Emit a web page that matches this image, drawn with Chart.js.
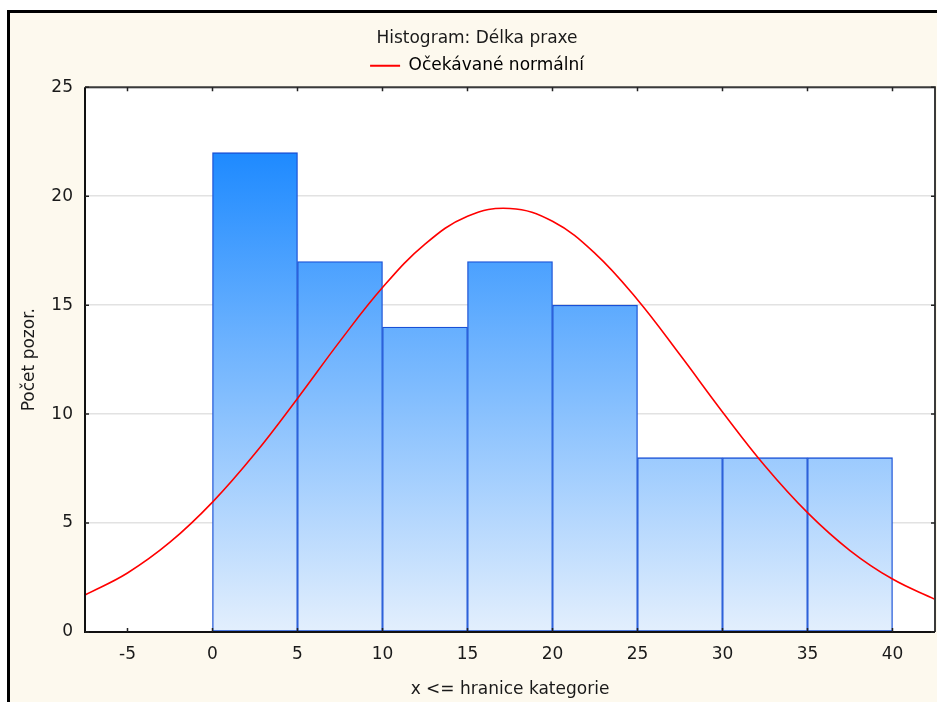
<!DOCTYPE html>
<html>
<head>
<meta charset="utf-8">
<title>Histogram: Délka praxe</title>
<script src="https://cdn.jsdelivr.net/npm/chart.js@4/dist/chart.umd.min.js"></script>
<style>
  html, body { margin: 0; padding: 0; background: #fff; }
  #wrap { width: 937px; height: 702px; }
</style>
</head>
<body>
<div id="wrap"><canvas id="hist"></canvas></div>
<script>
// histogram bins (left edge) and counts
var binLeft = [0, 5, 10, 15, 20, 25, 30, 35];
var binWidth = 5;
var counts = [22, 17, 14, 17, 15, 8, 8, 8];

// expected normal curve
var normX = [-7.5, -5, -2.5, 0, 2.5, 5, 7.5, 10, 12.5, 15, 17.5, 20, 22.5, 25, 27.5, 30, 32.5, 35, 37.5, 40, 42.5];
var normY = [1.70, 2.71, 4.12, 5.96, 8.19, 10.72, 13.35, 15.81, 17.80, 19.08, 19.44, 18.85, 17.38, 15.25, 12.72, 10.10, 7.62, 5.48, 3.74, 2.43, 1.50];

var xTicks = [-5, 0, 5, 10, 15, 20, 25, 30, 35, 40];
var yTicks = [0, 5, 10, 15, 20, 25];

var FONT = '"DejaVu Sans", Verdana, sans-serif';
var FS = 17;
var TXT = '#1a1a1a';

var barData = binLeft.map(function (l, i) { return { x: l + binWidth / 2, y: counts[i] }; });
var lineData = normX.map(function (x, i) { return { x: x, y: normY[i] }; });

// frame, cream background, inward ticks
var framePlugin = {
    id: 'frame',
    beforeDraw: function (chart) {
        var c = chart.ctx, a = chart.chartArea;
        c.save();
        c.fillStyle = '#ffffff';
        c.fillRect(0, 0, chart.width, chart.height);
        c.fillStyle = '#fdf9ee';
        c.fillRect(8, 11, chart.width - 8, chart.height - 11);
        c.fillStyle = '#000';
        c.fillRect(7, 10, chart.width - 7, 3);
        c.fillRect(7, 10, 3, chart.height - 10);
        c.fillStyle = '#ffffff';
        c.fillRect(a.left, a.top, a.right - a.left, a.bottom - a.top);
        c.restore();
    },
    afterDraw: function (chart) {
        var c = chart.ctx, a = chart.chartArea;
        var xs = chart.scales.x, ys = chart.scales.y;
        c.save();
        c.lineWidth = 2;
        c.strokeStyle = '#3a3a3a';
        c.beginPath();
        c.moveTo(a.left, a.top); c.lineTo(a.right, a.top); c.lineTo(a.right, a.bottom);
        c.stroke();
        c.strokeStyle = '#111';
        c.beginPath();
        c.moveTo(a.left, a.top); c.lineTo(a.left, a.bottom); c.lineTo(a.right, a.bottom);
        c.stroke();
        c.lineWidth = 1.5;
        c.strokeStyle = '#222';
        c.beginPath();
        xs.ticks.forEach(function (t) {
            var px = xs.getPixelForValue(t.value);
            c.moveTo(px, a.bottom); c.lineTo(px, a.bottom - 4);
            c.moveTo(px, a.top); c.lineTo(px, a.top + 4);
        });
        ys.ticks.forEach(function (t) {
            var py = ys.getPixelForValue(t.value);
            c.moveTo(a.left, py); c.lineTo(a.left + 4, py);
            c.moveTo(a.right, py); c.lineTo(a.right - 4, py);
        });
        c.stroke();
        c.restore();
    }
};

function barGradient(ctx) {
    var chart = ctx.chart;
    if (!chart.chartArea) return '#5aa8ff';
    var ys = chart.scales.y;
    var g = chart.ctx.createLinearGradient(0, ys.getPixelForValue(Math.max.apply(null, counts)), 0, ys.getPixelForValue(0));
    g.addColorStop(0, '#1e8aff');
    g.addColorStop(1, '#e3effd');
    return g;
}

new Chart(document.getElementById('hist'), {
    data: {
        datasets: [{
            type: 'line',
            label: 'Očekávané normální',
            data: lineData,
            borderColor: '#ff0000',
            backgroundColor: '#ff0000',
            borderWidth: 1.6,
            pointRadius: 0,
            fill: false,
            tension: 0.4,
            order: 1
        }, {
            type: 'bar',
            label: 'Délka praxe',
            data: barData,
            backgroundColor: barGradient,
            borderColor: '#1850d6',
            borderWidth: 1.3,
            borderSkipped: false,
            barPercentage: 1,
            categoryPercentage: 1,
            order: 2
        }]
    },
    options: {
        responsive: true,
        maintainAspectRatio: false,
        animation: false,
        layout: { padding: { top: 12, left: 19, right: 2, bottom: 0 } },
        scales: {
            x: {
                type: 'linear',
                offset: false,
                min: -7.5,
                max: 42.5,
                afterBuildTicks: function (s) { s.ticks = xTicks.map(function (v) { return { value: v }; }); },
                afterFit: function (s) { s.height = 70; },
                grid: { display: false, drawTicks: false, offset: false },
                border: { display: false },
                ticks: { padding: 12.5, color: TXT, font: { family: FONT, size: FS } },
                title: {
                    display: true,
                    text: 'x <= hranice kategorie',
                    color: TXT,
                    font: { family: FONT, size: FS },
                    padding: { top: 0, bottom: 2.5 }
                }
            },
            // empty spacer between legend and plot
            gap: {
                type: 'linear',
                position: 'top',
                display: true,
                afterFit: function (s) { s.height = 3; },
                grid: { display: false, drawTicks: false },
                border: { display: false },
                ticks: { display: false }
            },
            y: {
                min: 0,
                max: 25,
                afterBuildTicks: function (s) { s.ticks = yTicks.map(function (v) { return { value: v }; }); },
                afterFit: function (s) { s.width = 66; },
                grid: { color: '#e2e2e2', lineWidth: 1.5, drawTicks: false },
                border: { display: false },
                ticks: { padding: 12, color: TXT, font: { family: FONT, size: FS } },
                title: {
                    display: true,
                    text: 'Počet pozor.',
                    color: TXT,
                    font: { family: FONT, size: FS },
                    padding: { top: 0, bottom: 0 }
                }
            }
        },
        plugins: {
            tooltip: { enabled: false },
            title: {
                display: true,
                text: 'Histogram: Délka praxe',
                color: TXT,
                font: { family: FONT, size: FS, weight: 'normal' },
                padding: { top: 16, bottom: -6.6 }
            },
            legend: {
                display: true,
                position: 'top',
                labels: {
                    color: TXT,
                    font: { family: FONT, size: FS },
                    boxWidth: 30,
                    boxHeight: 2,
                    padding: 15.5,
                    generateLabels: function (chart) {
                        return [{
                            text: 'Očekávané normální',
                            fillStyle: '#ff0000',
                            strokeStyle: '#ff0000',
                            lineWidth: 0,
                            datasetIndex: 0
                        }];
                    }
                }
            }
        }
    },
    plugins: [framePlugin]
});
</script>
</body>
</html>
